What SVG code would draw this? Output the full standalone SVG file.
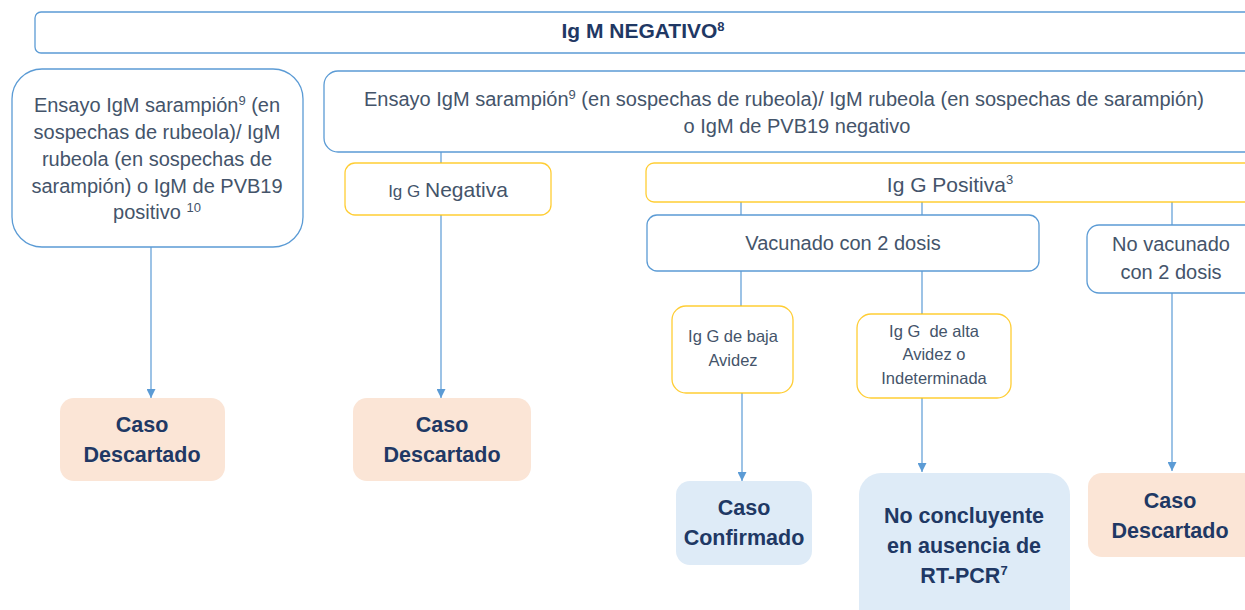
<svg xmlns="http://www.w3.org/2000/svg" width="1245" height="610" viewBox="0 0 1245 610">
<defs>
<marker id="arr" markerUnits="userSpaceOnUse" markerWidth="9" markerHeight="9" refX="10" refY="5" orient="auto" viewBox="0 0 10 10">
<path d="M0,0 L10,5 L0,10 Z" fill="#5b9bd5"/>
</marker>
<style>
.b{fill:#fff;stroke:#5b9bd5;stroke-width:1.3}
.y{fill:#fff;stroke:#ffc000;stroke-width:1.3;stroke-opacity:0.8}
.pe{fill:#fbe5d6}
.bl{fill:#deebf7}
text{font-family:"Liberation Sans",Arial,sans-serif;text-anchor:middle}
.t{fill:#44546a;font-size:20px}
.s{fill:#44546a;font-size:16.5px}
.o{fill:#203864;font-size:21.5px;font-weight:bold}
.c{stroke:#5b9bd5;stroke-width:1.2;fill:none}
</style>
</defs>
<g id="connectors">
<line class="c" x1="151" y1="247" x2="151" y2="398" marker-end="url(#arr)"/>
<line class="c" x1="441" y1="152" x2="441" y2="163"/>
<line class="c" x1="441" y1="215" x2="441" y2="398" marker-end="url(#arr)"/>
<line class="c" x1="741" y1="202" x2="741" y2="215"/>
<line class="c" x1="922" y1="202" x2="922" y2="215"/>
<line class="c" x1="1172" y1="202" x2="1172" y2="225"/>
<line class="c" x1="741" y1="271" x2="741" y2="306"/>
<line class="c" x1="922" y1="271" x2="922" y2="314"/>
<line class="c" x1="742" y1="393" x2="742" y2="481" marker-end="url(#arr)"/>
<line class="c" x1="922" y1="398" x2="922" y2="472" marker-end="url(#arr)"/>
<line class="c" x1="1172" y1="293" x2="1172" y2="471" marker-end="url(#arr)"/>
</g>
<g id="igm-negativo">
<rect class="b" x="35" y="12" width="1230" height="41" rx="6"/>
<text x="643" y="38" style="fill:#1f3864;font-size:21px;font-weight:bold">Ig M NEGATIVO<tspan font-size="13" dy="-7">8</tspan></text>
</g>
<g id="igm-positivo">
<rect class="b" x="12" y="69" width="291" height="178" rx="30"/>
<text class="t" x="157" y="112">Ensayo IgM sarampión<tspan font-size="13" dy="-7">9</tspan><tspan dy="7"> (en</tspan></text>
<text class="t" x="157" y="139">sospechas de rubeola)/ IgM</text>
<text class="t" x="157" y="166">rubeola (en sospechas de</text>
<text class="t" x="157" y="193">sarampión) o IgM de PVB19</text>
<text class="t" x="157" y="219">positivo <tspan font-size="13" dy="-7">10</tspan></text>
</g>
<g id="igm-negativo-ensayo">
<rect class="b" x="324" y="71" width="940" height="81" rx="14"/>
<text class="t" x="784" y="106">Ensayo IgM sarampión<tspan font-size="13" dy="-7">9</tspan><tspan dy="7"> (en sospechas de rubeola)/ IgM rubeola (en sospechas de sarampión)</tspan></text>
<text class="t" x="797" y="133">o IgM de PVB19 negativo</text>
</g>
<g id="igg-negativa">
<rect class="y" x="345" y="163" width="206" height="52" rx="10"/>
<text class="t" x="448" y="197"><tspan font-size="17px">Ig G </tspan><tspan font-size="21px">Negativa</tspan></text>
</g>
<g id="igg-positiva">
<rect class="y" x="646" y="163" width="620" height="39" rx="8"/>
<text class="t" x="950" y="192" font-size="21px" style="font-size:21px">Ig G Positiva<tspan font-size="13" dy="-8">3</tspan></text>
</g>
<g id="vacunado">
<rect class="b" x="647" y="215" width="392" height="56" rx="10"/>
<text class="t" x="843" y="250">Vacunado con 2 dosis</text>
</g>
<g id="no-vacunado">
<rect class="b" x="1087" y="225" width="180" height="68" rx="12"/>
<text class="t" x="1171" y="251">No vacunado</text>
<text class="t" x="1171" y="279">con 2 dosis</text>
</g>
<g id="baja-avidez">
<rect class="y" x="672" y="306" width="121" height="87" rx="14"/>
<text class="s" x="733" y="342">Ig G de baja</text>
<text class="s" x="733" y="366">Avidez</text>
</g>
<g id="alta-avidez">
<rect class="y" x="857" y="314" width="154" height="84" rx="14"/>
<text class="s" x="934" y="337" xml:space="preserve">Ig G  de alta</text>
<text class="s" x="934" y="360">Avidez o</text>
<text class="s" x="934" y="384">Indeterminada</text>
</g>
<g id="descartado-1">
<rect class="pe" x="60" y="398" width="165" height="83" rx="14"/>
<text class="o" x="142" y="432">Caso</text>
<text class="o" x="142" y="462">Descartado</text>
</g>
<g id="descartado-2">
<rect class="pe" x="353" y="398" width="178" height="83" rx="14"/>
<text class="o" x="442" y="432">Caso</text>
<text class="o" x="442" y="462">Descartado</text>
</g>
<g id="confirmado">
<rect class="bl" x="676" y="481" width="136" height="84" rx="14"/>
<text class="o" x="744" y="515">Caso</text>
<text class="o" x="744" y="545">Confirmado</text>
</g>
<g id="no-concluyente">
<rect class="bl" x="859" y="473" width="211" height="160" rx="22"/>
<text class="o" x="964" y="523">No concluyente</text>
<text class="o" x="964" y="553">en ausencia de</text>
<text class="o" x="964" y="583">RT-PCR<tspan font-size="13" dy="-8">7</tspan></text>
</g>
<g id="descartado-3">
<rect class="pe" x="1088" y="473" width="180" height="84" rx="14"/>
<text class="o" x="1170" y="508">Caso</text>
<text class="o" x="1170" y="538">Descartado</text>
</g>
</svg>
